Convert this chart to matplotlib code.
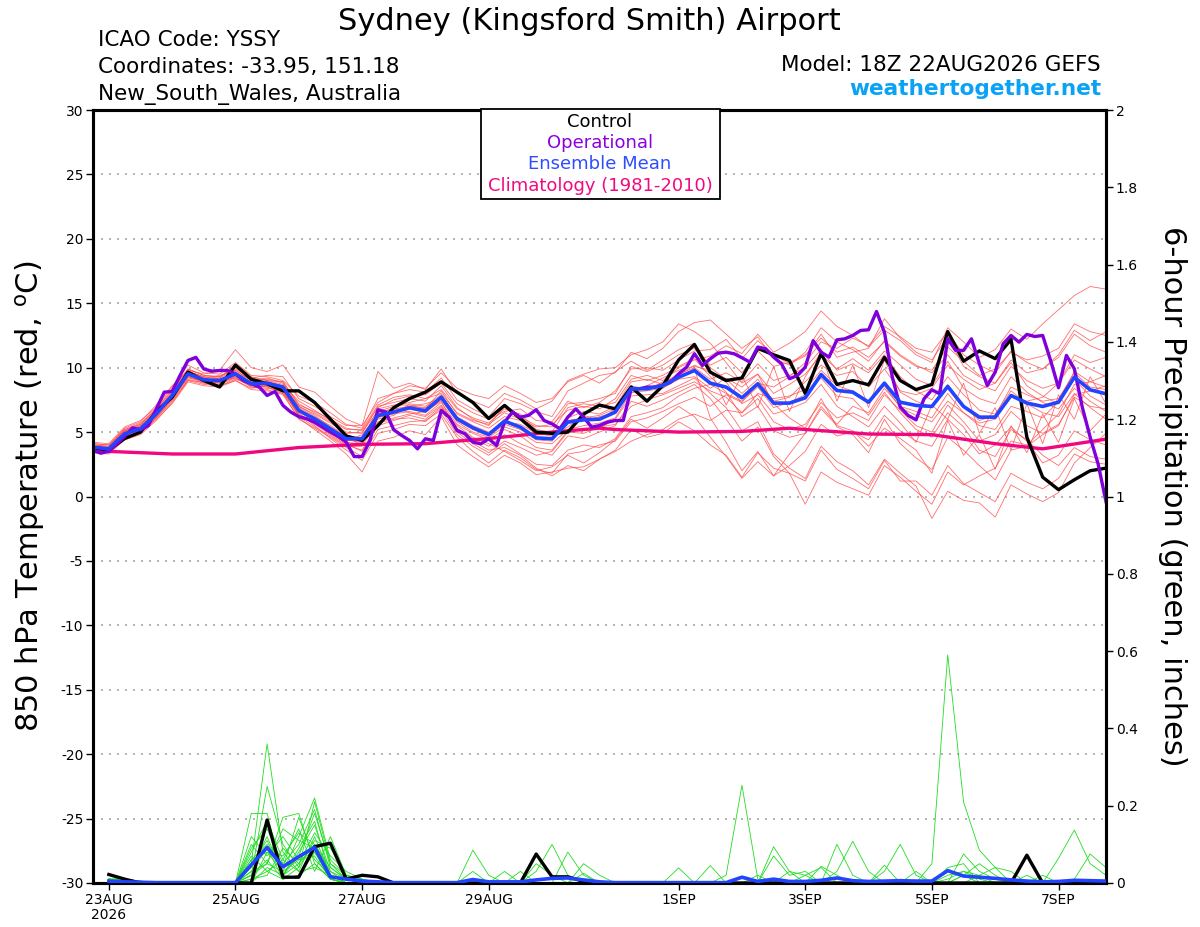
import numpy as np
import matplotlib
matplotlib.use("Agg")
import matplotlib.pyplot as plt
from matplotlib.patches import Rectangle

plt.rcParams['font.family'] = ['DejaVu Sans']
plt.rcParams['axes.unicode_minus'] = False

# forecast hours from 18Z 22AUG2026 (GEFS run)
temp_hours = np.arange(0, 385, 6)
oper_hours = np.arange(0, 385, 3)
prcp_hours = np.arange(6, 385, 6)

date_ticks = [0, 2, 4, 6, 9, 11, 13, 15]
date_labels = ["23AUG\n2026", "25AUG", "27AUG", "29AUG", "1SEP", "3SEP", "5SEP", "7SEP"]

# 850 hPa temperature, control run (6-hourly)
control_t = [3.8, 3.6, 4.5, 5.0, 6.6, 7.7, 9.65, 9.0, 8.5, 10.2, 9.1, 8.75, 8.2,
             8.2, 7.3, 6.0, 4.7, 4.35, 5.5, 6.9, 7.6, 8.1, 8.9, 8.1, 7.3, 6.05,
             7.07, 6.05, 5.0, 4.9, 5.0, 6.4, 7.1, 6.8, 8.5, 7.4, 8.6, 10.6, 11.8,
             9.65, 9.0, 9.2, 11.5, 11.0, 10.56, 8.0, 11.1, 8.7, 9.0, 8.67, 10.8, 9.0,
             8.3, 8.7, 12.8, 10.5, 11.3, 10.7, 12.2, 4.6, 1.5, 0.53, 1.3, 2.0, 2.2]

# ensemble mean (6-hourly)
mean_t = [3.83, 3.7, 4.87, 5.25, 6.42, 7.84, 9.52, 9.06, 9.0, 9.52, 8.75, 8.8, 8.49,
          6.68, 6.03, 5.25, 4.48, 4.48, 6.29, 6.55, 6.88, 6.65, 7.71, 6.03, 5.33, 4.81,
          5.85, 5.38, 4.55, 4.48, 5.77, 5.95, 6.0, 6.55, 8.36, 8.36, 8.62, 9.26, 9.78,
          8.8, 8.49, 7.66, 8.75, 7.25, 7.25, 7.66, 9.47, 8.23, 8.1, 7.32, 8.8, 7.32,
          7.07, 6.99, 8.54, 6.99, 6.16, 6.16, 7.84, 7.25, 6.99, 7.32, 9.26, 8.28, 7.97]

# operational run (3-hourly)
oper_t = [3.57, 3.36, 3.51, 4.09, 4.66, 5.33, 5.18, 5.51, 6.8, 8.1, 8.15, 9.4, 10.56, 10.8, 9.9, 9.73,
          9.78, 9.78, 9.52, 9.0, 8.75, 8.5, 7.84, 8.15, 7.07, 6.55, 6.2, 6.03, 5.77, 5.38, 5.0, 4.66,
          4.22, 3.1, 3.1, 4.35, 6.73, 6.55, 5.18, 4.74, 4.35, 3.7, 4.48, 4.35, 6.68, 6.16, 5.12, 4.87,
          4.22, 4.09, 4.48, 3.96, 5.77, 6.55, 6.16, 6.29, 6.73, 5.9, 5.64, 5.25, 6.16, 6.8, 6.16, 5.38,
          5.51, 5.77, 5.9, 5.9, 8.36, 8.36, 8.49, 8.49, 8.62, 8.88, 9.52, 10.04, 11.08, 10.17, 10.69, 11.13,
          11.2, 11.08, 10.77, 10.43, 11.6, 11.47, 10.82, 10.3, 9.14, 9.39, 10.04, 12.1, 11.2, 10.82, 12.16, 12.24,
          12.5, 12.89, 12.94, 14.36, 12.76, 9.26, 6.94, 6.29, 5.95, 7.58, 8.28, 7.97, 12.24, 11.34, 11.34, 12.24,
          10.3, 8.62, 9.65, 11.85, 12.5, 11.98, 12.58, 12.42, 12.5, 10.56, 8.44, 10.95, 9.91, 6.94, 4.6, 2.54,
          -0.4]

# climatology 1981-2010 (days from 23AUG 00Z)
clim_days = [-0.25, 0, 1, 2, 3, 4, 5, 6, 7, 7.75, 8, 9, 10, 10.75, 11, 12, 13, 14, 14.75, 15.75]
clim_t = [3.65, 3.5, 3.3, 3.3, 3.8, 4.05, 4.1, 4.5, 5.0, 5.3, 5.2, 5.0, 5.05, 5.3, 5.2, 4.85, 4.8, 4.1, 3.7, 4.45]

# ensemble members, 850 hPa temperature (6-hourly)
members_t = [
    [4.0, 3.9, 5.2, 5.6, 6.8, 8.2, 9.9, 9.4, 9.3, 10.0, 9.2, 9.0, 8.9,
     7.2, 6.5, 5.8, 5.0, 4.9, 7.0, 7.3, 7.6, 7.4, 8.6, 6.9, 6.0, 5.5,
     7.0, 6.2, 5.5, 5.4, 7.2, 7.3, 7.6, 8.0, 10.1, 9.7, 10.2, 11.0, 11.5,
     10.2, 10.8, 9.6, 11.3, 10.1, 10.4, 11.0, 12.3, 11.2, 11.6, 10.8, 12.0, 10.9,
     10.1, 9.8, 11.6, 10.5, 9.4, 9.9, 11.2, 10.6, 10.9, 11.5, 13.4, 12.8, 12.5],
    [3.6, 3.5, 4.6, 5.0, 6.1, 7.5, 9.1, 8.8, 8.7, 9.2, 8.6, 8.5, 8.1,
     6.3, 5.6, 4.8, 4.0, 3.6, 5.5, 5.9, 6.3, 6.0, 7.0, 5.2, 4.3, 3.6,
     3.8, 3.2, 2.2, 1.6, 2.4, 2.0, 2.9, 3.6, 5.2, 4.6, 4.9, 5.8, 5.1,
     4.0, 3.2, 1.5, 3.4, 2.2, 1.8, 1.2, 3.6, 2.1, 1.4, 0.6, 2.8, 1.2,
     1.2, 0.1, 2.4, 1.0, 0.3, -0.4, 1.8, 1.1, 0.6, 1.4, 3.3, 2.7, 2.5],
    [4.2, 4.1, 5.4, 5.9, 6.9, 8.5, 10.2, 9.6, 9.5, 10.4, 9.4, 9.3, 9.0,
     7.8, 7.3, 6.5, 5.6, 5.3, 7.6, 8.0, 8.3, 8.1, 9.2, 7.5, 6.8, 6.2,
     7.6, 7.2, 6.6, 6.2, 8.2, 8.8, 9.4, 9.6, 11.2, 10.7, 11.5, 12.8, 13.5,
     13.7, 12.6, 11.5, 12.4, 10.7, 10.2, 11.2, 13.1, 12.0, 11.4, 10.5, 12.1, 11.0,
     10.2, 9.6, 11.0, 9.4, 8.7, 8.2, 10.1, 9.0, 8.4, 8.8, 10.6, 9.9, 9.3],
    [3.5, 3.4, 4.5, 4.9, 6.0, 7.2, 8.9, 8.6, 8.5, 9.0, 8.4, 8.6, 8.3,
     6.5, 5.5, 4.5, 3.6, 2.8, 4.9, 5.2, 5.6, 5.5, 6.4, 4.6, 3.5, 2.6,
     3.6, 3.0, 2.1, 1.8, 3.3, 3.5, 4.0, 4.3, 5.8, 6.1, 6.6, 7.2, 7.7,
     7.0, 7.9, 7.3, 8.8, 8.5, 9.3, 10.4, 12.0, 11.5, 12.3, 11.7, 13.2, 12.4,
     11.5, 11.2, 12.8, 11.0, 10.2, 9.6, 11.3, 10.4, 9.9, 10.8, 12.6, 11.7, 11.2],
    [3.9, 3.8, 5.0, 5.5, 6.6, 8.0, 9.6, 9.2, 9.4, 9.8, 9.0, 9.2, 8.8,
     7.0, 6.4, 5.7, 4.9, 5.0, 6.6, 7.0, 7.3, 7.6, 8.0, 6.5, 5.9, 5.6,
     6.5, 6.0, 5.4, 5.6, 6.7, 7.0, 6.8, 7.6, 9.4, 9.0, 9.4, 10.1, 10.7,
     9.3, 8.1, 6.2, 7.0, 5.1, 4.6, 4.9, 6.8, 5.5, 5.1, 3.9, 5.3, 4.5,
     3.6, 1.8, 5.9, 3.2, 4.8, 2.1, 5.5, 3.4, 6.4, 4.2, 7.6, 5.1, 6.4],
    [3.7, 3.5, 4.8, 5.1, 6.2, 7.6, 9.3, 8.9, 8.8, 9.3, 8.5, 8.3, 7.9,
     6.1, 5.2, 4.3, 3.3, 1.9, 4.3, 4.6, 5.1, 4.8, 6.2, 4.0, 3.1, 2.3,
     3.2, 2.6, 1.7, 1.9, 2.2, 2.3, 2.9, 3.5, 4.3, 4.8, 5.2, 6.0, 6.4,
     5.9, 6.7, 6.5, 8.0, 7.6, 7.8, 8.3, 9.8, 8.6, 8.2, 7.4, 8.6, 6.9,
     6.3, 5.8, 7.4, 6.5, 5.7, 6.0, 7.9, 7.4, 7.7, 8.8, 11.0, 10.4, 10.8],
    [4.1, 4.0, 5.3, 5.8, 7.1, 8.6, 9.8, 9.5, 9.8, 11.4, 10.0, 9.7, 10.2,
     8.5, 8.1, 7.0, 6.0, 5.5, 9.7, 8.4, 8.8, 8.3, 9.9, 8.0, 7.4, 6.9,
     8.0, 7.5, 6.8, 7.4, 9.0, 9.5, 9.9, 10.0, 11.0, 11.4, 12.0, 13.4, 12.8,
     11.9, 10.4, 8.8, 9.5, 7.2, 6.1, 5.3, 7.6, 5.4, 4.8, 3.4, 6.0, 4.1,
     3.0, 2.1, 4.6, 3.6, 2.4, 1.3, 3.6, 3.9, 4.8, 5.5, 7.9, 8.2, 8.6],
    [3.6, 3.4, 4.7, 5.2, 6.3, 7.7, 9.4, 9.0, 8.6, 9.1, 8.7, 8.9, 8.6,
     6.9, 6.2, 5.5, 4.7, 4.6, 6.5, 6.8, 7.0, 6.9, 7.7, 6.1, 5.4, 4.9,
     6.0, 5.3, 4.5, 4.4, 5.7, 5.9, 6.2, 6.5, 8.6, 8.3, 8.8, 9.5, 10.0,
     9.1, 9.6, 8.9, 10.3, 9.0, 9.4, 10.0, 11.4, 9.8, 10.3, 9.6, 11.0, 9.3,
     8.2, 7.5, 9.3, 7.9, 6.7, 6.4, 8.2, 7.2, 6.5, 6.2, 8.0, 6.9, 6.0],
    [3.9, 3.8, 5.1, 5.4, 6.5, 7.9, 9.7, 9.3, 9.1, 9.6, 9.1, 8.7, 8.4,
     6.6, 5.9, 5.0, 4.2, 4.1, 6.2, 6.4, 6.6, 6.3, 7.3, 5.6, 4.9, 4.4,
     5.2, 4.7, 3.8, 3.6, 5.1, 5.2, 5.3, 6.0, 7.8, 7.9, 8.0, 8.6, 9.2,
     8.0, 6.9, 5.1, 5.8, 3.3, 2.2, 1.4, 3.9, 2.7, 2.0, 0.9, 2.9, 1.8,
     0.8, -1.7, 0.4, -0.3, -0.5, -1.6, 0.9, 0.2, -0.4, 0.3, 2.6, 3.8, 4.9],
    [3.8, 3.6, 4.9, 5.3, 6.3, 7.6, 9.2, 9.0, 9.2, 10.3, 9.3, 9.0, 8.7,
     7.4, 6.7, 5.9, 5.2, 5.2, 7.1, 7.7, 7.9, 7.6, 8.3, 6.8, 6.1, 5.7,
     6.8, 6.4, 5.2, 5.0, 6.9, 7.2, 7.0, 7.3, 9.1, 9.4, 9.0, 10.0, 10.6,
     10.9, 11.7, 11.1, 12.6, 11.2, 11.9, 12.8, 14.4, 13.2, 12.5, 11.6, 12.9, 12.1,
     11.0, 10.4, 13.1, 12.0, 10.8, 11.4, 13.0, 12.2, 13.4, 14.5, 15.6, 16.3, 16.1],
    [3.4, 3.3, 4.4, 4.8, 5.9, 7.3, 9.0, 8.7, 8.6, 9.0, 8.3, 8.2, 8.0,
     6.0, 5.3, 4.6, 3.8, 3.1, 5.2, 5.5, 5.8, 5.9, 6.7, 4.8, 3.9, 3.2,
     4.1, 3.3, 2.5, 2.4, 3.6, 4.0, 3.8, 4.5, 6.2, 6.5, 6.9, 7.8, 8.4,
     8.7, 8.0, 7.4, 8.5, 6.9, 7.3, 7.9, 9.2, 7.8, 7.6, 6.3, 8.1, 6.5,
     5.2, 4.6, 6.5, 5.4, 3.6, 3.1, 5.2, 4.4, 3.2, 2.4, 3.8, 3.1, 2.9],
    [4.0, 3.9, 5.1, 5.6, 6.7, 8.1, 9.8, 9.2, 8.9, 9.4, 8.9, 8.8, 8.6,
     6.8, 6.0, 5.2, 4.4, 4.3, 6.0, 6.3, 7.2, 7.0, 7.9, 6.2, 5.5, 5.0,
     5.8, 5.6, 4.9, 4.7, 5.4, 6.3, 5.9, 6.8, 8.0, 8.6, 9.2, 9.8, 10.1,
     9.8, 7.1, 9.4, 6.9, 10.1, 6.6, 9.3, 11.2, 7.4, 10.2, 6.9, 10.6, 8.1,
     7.4, 6.9, 8.7, 7.0, 5.9, 6.3, 8.5, 7.9, 7.4, 7.6, 9.6, 8.5, 8.3],
    [3.7, 3.6, 4.8, 5.2, 6.4, 7.9, 9.6, 9.1, 9.0, 9.7, 8.8, 8.6, 8.2,
     6.4, 5.7, 5.1, 4.3, 4.8, 6.4, 6.9, 6.5, 6.2, 7.1, 5.3, 4.5, 3.9,
     4.8, 4.1, 3.6, 3.2, 4.7, 4.5, 5.0, 5.5, 7.4, 7.0, 7.5, 8.1, 8.7,
     7.6, 6.0, 4.3, 5.4, 3.1, 1.8, -0.6, 1.9, 1.1, 0.6, 0.1, 2.4, 1.5,
     0.4, -0.6, 1.9, 0.9, 1.6, 2.2, 4.3, 4.0, 5.2, 6.4, 8.7, 8.9, 9.4],
    [3.9, 3.7, 5.0, 5.4, 6.5, 7.7, 9.4, 9.1, 9.1, 9.5, 8.9, 9.1, 8.9,
     7.1, 6.6, 6.0, 5.3, 5.1, 6.9, 7.5, 7.8, 7.9, 8.8, 7.2, 6.5, 6.0,
     6.6, 6.8, 5.9, 5.8, 7.4, 6.9, 7.3, 8.2, 9.9, 10.0, 9.8, 10.6, 11.3,
     11.4, 12.2, 10.7, 12.1, 11.0, 10.3, 10.9, 12.6, 10.8, 11.2, 11.5, 13.8, 12.3,
     11.2, 10.6, 12.4, 10.1, 9.3, 8.8, 10.4, 8.6, 7.8, 7.2, 9.1, 7.8, 7.1],
    [3.6, 3.5, 4.7, 5.1, 6.2, 7.6, 9.3, 8.8, 8.9, 9.4, 8.6, 8.7, 8.4,
     6.2, 5.4, 4.7, 3.9, 3.9, 5.8, 6.1, 6.4, 6.6, 7.4, 5.0, 4.1, 3.4,
     4.3, 3.8, 3.2, 3.5, 5.0, 4.9, 5.4, 5.6, 7.0, 7.5, 7.9, 8.4, 8.9,
     8.2, 7.7, 6.5, 7.6, 5.8, 5.2, 5.6, 7.3, 6.1, 6.5, 5.9, 7.9, 6.7,
     5.5, 5.0, 7.1, 5.8, 4.3, 4.8, 6.6, 5.5, 4.9, 5.6, 7.7, 7.0, 6.8],
    [4.1, 4.0, 5.2, 5.7, 6.8, 8.3, 9.9, 9.4, 9.3, 9.9, 9.2, 9.4, 9.3,
     7.6, 7.0, 6.2, 5.5, 5.5, 7.3, 8.0, 8.6, 8.4, 9.6, 8.4, 7.9, 7.6,
     8.6, 8.0, 7.3, 7.6, 8.9, 9.4, 8.8, 9.7, 10.5, 9.8, 10.6, 11.4, 11.9,
     10.0, 9.1, 8.0, 9.1, 7.4, 7.7, 8.9, 10.2, 9.4, 9.7, 8.5, 9.9, 8.2,
     7.9, 8.4, 10.2, 9.1, 8.3, 8.8, 10.6, 9.6, 9.9, 11.0, 12.9, 12.1, 12.8],
    [3.8, 3.7, 4.9, 5.3, 6.3, 7.8, 9.5, 9.0, 8.8, 9.3, 8.7, 8.5, 8.0,
     6.6, 5.8, 4.9, 4.1, 3.5, 5.7, 6.0, 6.1, 5.8, 6.9, 5.5, 4.6, 4.1,
     3.5, 2.8, 2.0, 2.3, 3.2, 2.6, 3.4, 4.4, 6.0, 5.3, 6.1, 7.0, 6.2,
     4.6, 3.1, 1.4, 2.7, 1.6, 2.4, 3.5, 5.6, 4.7, 5.0, 4.4, 6.3, 5.1,
     4.3, 3.9, 6.0, 4.8, 3.3, 4.0, 5.4, 4.3, 2.6, 3.2, 5.1, 4.4, 4.0],
    [3.5, 3.4, 4.6, 5.0, 6.1, 7.4, 9.0, 8.9, 8.9, 9.2, 8.5, 8.4, 8.2,
     6.3, 5.7, 5.1, 4.4, 4.2, 6.1, 6.5, 6.8, 6.5, 7.5, 5.8, 5.0, 4.6,
     5.4, 5.0, 4.2, 4.1, 5.2, 5.5, 5.7, 6.1, 8.1, 8.2, 8.4, 9.1, 9.3,
     8.4, 9.2, 8.5, 9.5, 8.0, 8.7, 9.5, 11.0, 9.9, 10.7, 9.8, 11.3, 10.2,
     9.1, 8.6, 10.5, 8.4, 7.6, 7.2, 9.3, 8.1, 7.3, 6.8, 8.4, 7.4, 6.6],
    [3.9, 3.8, 5.1, 5.5, 6.6, 8.0, 9.7, 9.3, 9.2, 9.8, 9.0, 8.9, 8.6,
     7.0, 6.3, 5.4, 4.6, 4.4, 6.8, 7.1, 7.1, 6.8, 8.2, 6.4, 5.8, 5.3,
     6.2, 5.9, 4.8, 4.8, 6.1, 6.6, 6.4, 7.0, 8.9, 9.1, 8.7, 9.4, 10.2,
     9.6, 8.9, 7.2, 7.9, 6.4, 6.8, 7.3, 8.7, 7.0, 6.2, 5.4, 7.0, 5.7,
     4.2, 7.1, 6.0, 8.8, 4.9, 6.9, 3.6, 7.2, 4.1, 7.9, 6.0, 9.3, 7.2],
    [3.7, 3.6, 4.8, 5.2, 6.3, 7.7, 9.3, 9.0, 8.9, 9.4, 8.7, 8.6, 8.3,
     6.7, 6.1, 5.3, 4.6, 4.0, 6.3, 6.7, 7.0, 7.2, 7.6, 5.9, 5.2, 4.7,
     5.6, 5.2, 4.4, 4.3, 5.9, 6.1, 6.3, 6.8, 8.5, 8.3, 8.9, 9.3, 9.9,
     6.1, 4.2, 2.0, 3.5, 1.6, 3.3, 4.9, 7.0, 5.6, 7.0, 6.5, 8.4, 7.0,
     6.6, 6.1, 8.0, 6.5, 5.5, 5.2, 7.0, 6.6, 6.1, 7.4, 9.7, 8.9, 8.5],
]

# 6-hour precipitation (inches), control and ensemble mean
control_p = [.022, .01, 0, 0, 0, 0, 0, 0, 0, 0, .163, .015, .015, .094, .103, .01,
             .02, .016, 0, 0, 0, 0, 0, 0, 0, 0, 0, .075, .016, .016, .004, 0,
             0, 0, 0, 0, 0, 0, 0, 0, 0, 0, 0, 0, 0, 0, 0, 0,
             0, 0, 0, 0, 0, 0, 0, 0, 0, 0, .072, 0, 0, 0, 0, 0]
mean_p = [.005, .003, .002, .001, .001, .001, .001, .001, .001, .047, .092, .042, .068, .092, .016, .01,
          .005, .003, .001, .001, .001, .001, .001, .009, .003, .003, .003, .008, .012, .013, .008, .003,
          .001, .001, .001, .001, .001, .001, .001, .001, .015, .004, .01, .004, .004, .007, .013, .006,
          .004, .005, .006, .005, .005, .032, .018, .015, .012, .008, .005, .003, .004, .007, .006, .005]

# ensemble members, 6-hour precipitation
members_p = [
    [.01, .005, 0, 0, 0, 0, 0, 0, 0, .05, .36, .08, .03, .12, .02, .01,
     0, 0, 0, 0, 0, 0, 0, 0, 0, 0, 0, 0, 0, 0, 0, 0,
     0, 0, 0, 0, 0, 0, 0, 0, 0, .02, 0, 0, 0, 0, 0, 0,
     0, 0, 0, 0, 0, .01, .03, .02, 0, 0, 0, 0, 0, 0, 0, 0],
    [.01, .01, .005, 0, 0, 0, 0, 0, 0, .18, .18, .02, .05, .10, .03, 0,
     0, 0, 0, 0, 0, 0, 0, 0, 0, 0, 0, 0, 0, 0, 0, 0,
     0, 0, 0, 0, 0, 0, 0, 0, 0, 0, 0, 0, 0, 0, 0, 0,
     0, 0, 0, 0, .05, .59, .21, .085, .04, 0, 0, 0, 0, 0, 0, 0],
    [.01, .005, 0, 0, 0, 0, 0, 0, 0, .02, .25, .10, .04, .21, .05, .01,
     0, 0, 0, 0, 0, 0, 0, 0, 0, 0, 0, .03, .10, .02, 0, 0,
     0, 0, 0, 0, 0, 0, 0, 0, 0, 0, 0, 0, .02, .04, 0, 0,
     0, 0, 0, 0, 0, 0, .02, 0, 0, 0, 0, 0, 0, 0, 0, 0],
    [.005, 0, 0, 0, 0, 0, 0, 0, 0, .10, .05, .17, .18, .05, .01, 0,
     0, 0, 0, 0, 0, 0, 0, 0, 0, 0, 0, 0, 0, 0, 0, 0,
     0, 0, 0, 0, 0, 0, 0, 0, 0, 0, 0, 0, 0, 0, .03, .108,
     .03, 0, 0, 0, 0, .02, .03, .01, 0, 0, 0, 0, 0, 0, 0, 0],
    [.01, .01, .005, 0, 0, 0, 0, 0, 0, 0, .08, .03, .12, .22, .06, .02,
     .01, 0, 0, 0, 0, 0, 0, 0, 0, 0, 0, .05, .02, 0, 0, 0,
     0, 0, 0, 0, 0, 0, 0, 0, 0, 0, 0, 0, 0, 0, 0, 0,
     0, 0, 0, 0, 0, 0, .075, .03, .01, 0, 0, 0, 0, 0, 0, 0],
    [0, 0, 0, 0, 0, 0, 0, 0, 0, .04, .12, .02, .09, .16, .01, 0,
     0, 0, 0, 0, 0, 0, 0, 0, 0, 0, 0, 0, 0, 0, 0, 0,
     0, 0, 0, 0, 0, 0, 0, 0, 0, 0, 0, 0, 0, 0, 0, 0,
     0, .03, .10, .02, 0, 0, 0, 0, 0, 0, 0, 0, 0, 0, 0, 0],
    [.01, 0, 0, 0, 0, 0, 0, 0, 0, .07, .03, .06, .14, .03, .12, .02,
     0, 0, 0, 0, 0, 0, 0, 0, 0, 0, 0, 0, 0, .08, .02, 0,
     0, 0, 0, 0, 0, 0, 0, 0, 0, 0, 0, 0, 0, 0, 0, 0,
     0, 0, 0, 0, 0, 0, 0, .02, .04, .03, 0, 0, 0, 0, 0, 0],
    [.005, 0, 0, 0, 0, 0, 0, 0, 0, .02, .06, .01, .02, .08, .01, 0,
     0, 0, 0, 0, 0, 0, 0, 0, 0, 0, 0, 0, 0, 0, 0, 0,
     0, 0, 0, 0, 0, 0, 0, .02, .253, .01, 0, 0, 0, 0, 0, 0,
     0, 0, 0, 0, 0, 0, 0, 0, 0, 0, 0, 0, 0, 0, 0, 0],
    [.01, .005, 0, 0, 0, 0, 0, 0, 0, .09, .14, .05, .10, .19, .04, .01,
     0, 0, 0, 0, 0, 0, 0, 0, 0, .03, 0, 0, 0, 0, 0, 0,
     0, 0, 0, 0, 0, 0, 0, 0, 0, 0, 0, 0, 0, 0, 0, 0,
     0, 0, 0, 0, 0, 0, .02, .05, .02, 0, 0, 0, 0, 0, 0, 0],
    [0, 0, 0, 0, 0, 0, 0, 0, 0, .01, .02, .09, .05, .13, .07, .03,
     .01, 0, 0, 0, 0, 0, 0, 0, 0, 0, 0, 0, 0, 0, 0, 0,
     0, 0, 0, 0, 0, 0, 0, 0, 0, 0, .094, .03, 0, 0, 0, 0,
     0, 0, 0, 0, 0, 0, 0, 0, 0, 0, 0, 0, 0, 0, 0, 0],
    [.01, .01, 0, 0, 0, 0, 0, 0, 0, .06, .10, .04, .17, .06, .02, 0,
     0, 0, 0, 0, 0, 0, 0, 0, 0, 0, 0, 0, 0, 0, 0, 0,
     0, 0, 0, 0, 0, 0, 0, 0, 0, 0, 0, 0, 0, 0, 0, 0,
     0, 0, 0, 0, 0, 0, 0, 0, 0, 0, .02, 0, .064, .137, .05, .02],
    [.005, 0, 0, 0, 0, 0, 0, 0, 0, .03, .09, .01, .04, .11, .09, .02,
     0, 0, 0, 0, 0, 0, 0, .085, .02, 0, 0, 0, 0, 0, 0, 0,
     0, 0, 0, 0, .039, 0, 0, 0, 0, 0, 0, 0, 0, 0, 0, 0,
     0, 0, 0, 0, 0, 0, 0, 0, 0, 0, 0, 0, 0, 0, 0, 0],
    [.01, 0, 0, 0, 0, 0, 0, 0, 0, .12, .07, .12, .06, .07, .01, 0,
     0, 0, 0, 0, 0, 0, 0, 0, 0, 0, 0, 0, 0, 0, 0, 0,
     0, 0, 0, 0, 0, 0, 0, 0, 0, 0, .07, .02, .03, 0, 0, 0,
     0, 0, 0, 0, 0, 0, 0, 0, 0, 0, 0, 0, 0, 0, 0, 0],
    [0, 0, 0, 0, 0, 0, 0, 0, 0, 0, .04, .02, .08, .15, .03, .01,
     0, 0, 0, 0, 0, 0, 0, 0, 0, 0, 0, 0, 0, 0, .025, 0,
     0, 0, 0, 0, 0, 0, 0, 0, 0, 0, 0, 0, 0, .043, .02, 0,
     0, 0, 0, 0, 0, 0, 0, 0, 0, 0, 0, 0, 0, 0, 0, 0],
    [.01, .005, 0, 0, 0, 0, 0, 0, 0, .08, .16, .06, .03, .04, .02, 0,
     0, 0, 0, 0, 0, 0, 0, 0, 0, 0, 0, 0, 0, 0, 0, 0,
     0, 0, 0, 0, 0, 0, 0, 0, 0, 0, 0, 0, 0, 0, .10, .02,
     0, 0, 0, 0, 0, 0, 0, 0, 0, 0, 0, 0, 0, 0, 0, 0],
    [0, 0, 0, 0, 0, 0, 0, 0, 0, .03, .05, .14, .11, .09, .01, 0,
     0, 0, 0, 0, 0, 0, 0, 0, 0, 0, 0, 0, 0, 0, .05, .02,
     0, 0, 0, 0, 0, 0, 0, 0, 0, 0, 0, 0, 0, 0, 0, 0,
     0, 0, 0, 0, 0, 0, 0, 0, 0, 0, 0, 0, 0, 0, 0, 0],
    [.005, 0, 0, 0, 0, 0, 0, 0, 0, .05, .11, .02, .07, .18, .05, .02,
     .01, 0, 0, 0, 0, 0, 0, 0, 0, 0, 0, 0, 0, 0, 0, 0,
     0, 0, 0, 0, 0, 0, .045, 0, 0, 0, 0, 0, 0, 0, 0, 0,
     0, 0, 0, 0, 0, 0, 0, 0, 0, 0, 0, 0, 0, .01, .075, .04],
    [0, 0, 0, 0, 0, 0, 0, 0, 0, .01, .03, .01, .02, .05, .01, 0,
     0, 0, 0, 0, 0, 0, 0, 0, 0, 0, .03, 0, 0, 0, 0, 0,
     0, 0, 0, 0, 0, 0, 0, 0, 0, 0, 0, 0, 0, 0, 0, 0,
     0, .046, 0, 0, 0, 0, 0, 0, 0, 0, 0, 0, 0, 0, 0, 0],
    [.01, 0, 0, 0, 0, 0, 0, 0, 0, .06, .08, .07, .13, .10, .04, .01,
     0, 0, 0, 0, 0, 0, 0, .03, 0, 0, 0, 0, 0, 0, 0, 0,
     0, 0, 0, 0, 0, 0, 0, 0, 0, 0, 0, .03, .02, 0, 0, 0,
     0, 0, 0, .03, 0, .04, .05, 0, 0, 0, 0, 0, 0, 0, 0, 0],
    [0, 0, 0, 0, 0, 0, 0, 0, 0, .02, .05, .03, .06, .08, .02, 0,
     0, 0, 0, 0, 0, 0, 0, 0, 0, 0, 0, 0, 0, 0, 0, 0,
     0, 0, 0, 0, 0, 0, 0, 0, 0, 0, 0, 0, 0, 0, 0, 0,
     0, 0, 0, 0, 0, 0, 0, 0, 0, 0, 0, .02, 0, 0, 0, 0],
]


def to_days(hours):
    """forecast hour (from 18Z) -> days after 23AUG 00Z"""
    return (np.asarray(hours) - 6) / 24.0


W, H = 1200, 927
fig = plt.figure(figsize=(W / 100, H / 100), dpi=100)
ax = fig.add_axes([93 / W, 1 - 883 / H, (1106 - 93) / W, (883 - 110) / H])
ax2 = ax.twinx()

t_days = to_days(temp_hours)
for mem in members_t:
    ax.plot(t_days, mem, color="#ff4a4a", lw=0.6, alpha=0.8, zorder=2)
ax.plot(clim_days, clim_t, color="#f0087f", lw=2.4, zorder=3)
ax.plot(t_days, control_t, color="black", lw=2.4, zorder=4)
ax.plot(to_days(oper_hours), oper_t, color="#8000dc", lw=2.4, zorder=5)
ax.plot(t_days, mean_t, color="#2244ff", lw=2.6, zorder=6)

p_days = to_days(prcp_hours)
for mem in members_p:
    ax2.plot(p_days, mem, color="#22dd22", lw=0.6, zorder=2)
ax2.plot(p_days, control_p, color="black", lw=2.4, zorder=4)
ax2.plot(p_days, mean_p, color="#2244ff", lw=2.6, zorder=5)

# axes ranges and ticks
ax.set_xlim(-0.25, 15.75)
ax.set_ylim(-30, 30)
ax2.set_ylim(0, 2)
ax.set_yticks(range(-30, 31, 5))
ax2.set_yticks(np.arange(0, 2.01, 0.2))
ax2.set_yticklabels(["%g" % round(v, 1) for v in np.arange(0, 2.01, 0.2)])
ax.set_xticks(date_ticks)
ax.set_xticklabels(date_labels, linespacing=1.1)
for v in range(-25, 30, 5):
    ax.axhline(v, color="#a8a8a8", lw=1.2, ls=(0, (1.2, 3.6)), zorder=1)

for a in (ax, ax2):
    a.tick_params(direction="out", length=5, width=1, labelsize=10, pad=2)
    for sp in a.spines.values():
        sp.set_linewidth(2.2)

# titles and labels
fig.text(589 / W, 1 - 30 / H, "Sydney (Kingsford Smith) Airport", ha="center", va="baseline", fontsize=22)
fig.text(98 / W, 1 - 46 / H, "ICAO Code: YSSY", ha="left", va="baseline", fontsize=15.5)
fig.text(98 / W, 1 - 72.7 / H, "Coordinates: -33.95, 151.18", ha="left", va="baseline", fontsize=15.5)
fig.text(98 / W, 1 - 100 / H, "New_South_Wales, Australia", ha="left", va="baseline", fontsize=15.5)
fig.text(1101 / W, 1 - 71 / H, "Model: 18Z 22AUG2026 GEFS", ha="right", va="baseline", fontsize=15.5)
fig.text(1101 / W, 1 - 95 / H, "weathertogether.net", ha="right", va="baseline", fontsize=15.6,
         fontweight="bold", color="#0aa2f5")
fig.text(30 / W, 1 - 496 / H, "850 hPa Temperature (red, $^{\\rm o}$C)", rotation=90,
         ha="center", va="center", fontsize=22)
fig.text(1172 / W, 1 - 496 / H, "6-hour Precipitation (green, inches)", rotation=270,
         ha="center", va="center", fontsize=22)

# legend box
fig.patches.append(Rectangle((480.5 / W, 1 - 199 / H), 239 / W, 90 / H, transform=fig.transFigure,
                             facecolor="white", edgecolor="black", lw=1.3, zorder=10))
legend_rows = [("Control", "black", 126.7), ("Operational", "#8a00e0", 147.7),
               ("Ensemble Mean", "#2f4dff", 169), ("Climatology (1981-2010)", "#f00a80", 190.7)]
for txt, col, yb in legend_rows:
    fig.text(600 / W, 1 - yb / H, txt, ha="center", va="baseline", fontsize=13, color=col, zorder=11)

fig.savefig("out.png", dpi=100)
